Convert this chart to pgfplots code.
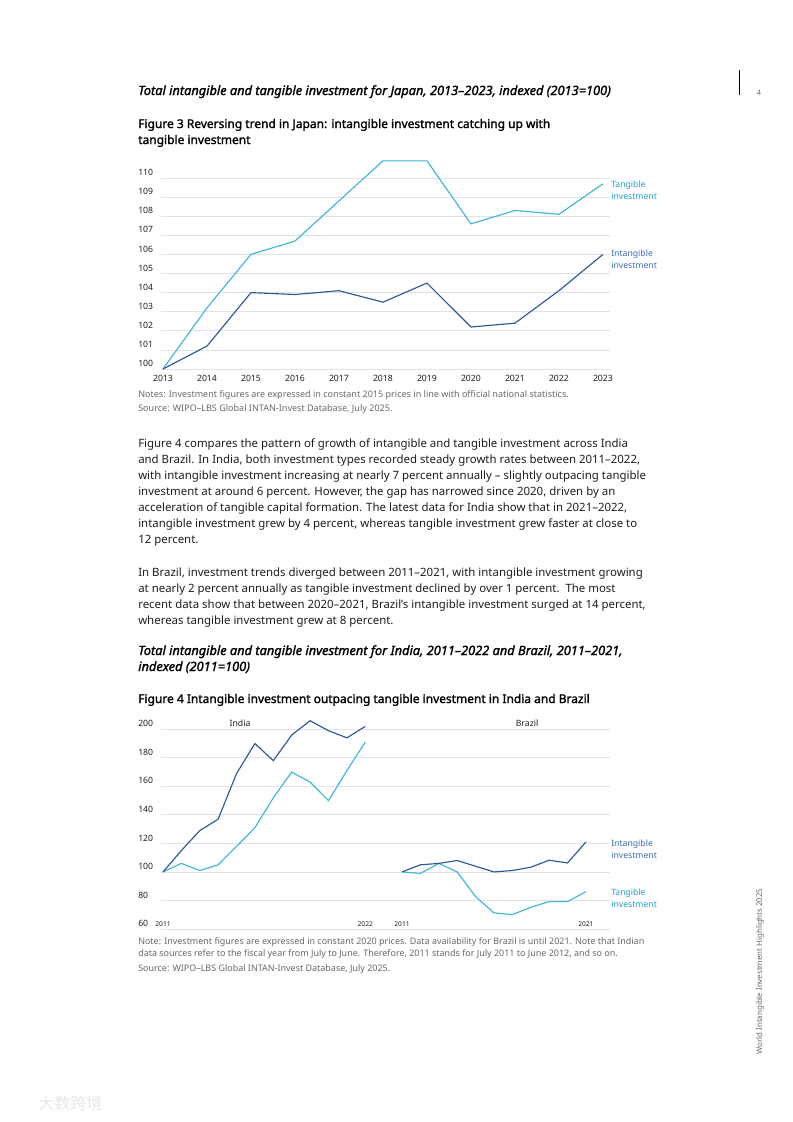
\documentclass[border=0pt]{standalone}
\usepackage{fontspec}
\setmainfont{Noto Sans}[AutoFakeBold=1.6]
\newfontfamily\bif{Noto Sans}[UprightFeatures={FakeBold=1.6}, ItalicFeatures={FakeBold=1.6}]
\newfontfamily\cjk{Noto Sans CJK SC}
\usepackage{pgfplots}
\pgfplotsset{compat=1.18}
\usepackage{pgfplotstable}

\definecolor{tangline}{RGB}{62,182,214}
\definecolor{intline}{RGB}{44,86,151}
\definecolor{tanglab}{RGB}{35,160,200}
\definecolor{intlab}{RGB}{60,108,180}
\definecolor{gridc}{RGB}{226,226,226}
\definecolor{notec}{RGB}{105,105,105}
\definecolor{bodyc}{RGB}{30,30,30}

% Japan, indexed 2013=100
\pgfplotstableread{
year tang intang
2013 100.0 100.0
2014 103.2 101.2
2015 106.0 104.0
2016 106.7 103.9
2017 108.8 104.1
2018 110.9 103.5
2019 110.9 104.5
2020 107.6 102.2
2021 108.3 102.4
2022 108.1 104.1
2023 109.7 106.0
}\japan

% India 2011-2022 at x=0..11
\pgfplotstableread{
x tang intang
0 100 100
1 106 115
2 101 129
3 105 137
4 118 169
5 131 190
6 152 178
7 170 196
8 163 206
9 150 199
10 171 194
11 191 202
}\india

% Brazil 2011-2021 at x=13..23
\pgfplotstableread{
x tang intang
13 100.0 100.0
14 99.0 105.0
15 106.0 106.0
16 100.0 108.0
17 82.7 104.0
18 71.3 100.0
19 70.1 101.0
20 75.2 103.3
21 79.2 108.2
22 79.2 106.3
23 86.2 121.0
}\brazil

\newcommand\Ln[3]{\node[anchor=base west,inner sep=0pt] at (#1,#2) {#3};}

\begin{document}
\begin{tikzpicture}
\begin{scope}[x=0.75pt,y=-0.75pt]
\path[fill=white] (0,0) rectangle (793,1122);
\coordinate (J) at (161,369);
\coordinate (B) at (161,929);

% header
\draw[line width=0.9pt] (739.5,70) -- (739.5,95);
\node[font=\fontsize{5.5}{6}\selectfont,text=notec,inner sep=0pt] at (759,93) {4};

% ---------- Japan block ----------
\begin{scope}[font=\bif\fontsize{9.6}{11}\selectfont\itshape]
\Ln{138}{95}{Total intangible and tangible investment for Japan, 2013–2023, indexed (2013=100)}
\end{scope}
\begin{scope}[font=\fontsize{8.98}{10}\selectfont\bfseries]
\Ln{138}{128}{Figure 3 Reversing trend in Japan: intangible investment catching up with}
\Ln{138}{144}{tangible investment}
\end{scope}

\begin{scope}[font=\fontsize{6.5}{7}\selectfont]
\Ln{611}{187.5}{\color{tanglab}Tangible}
\Ln{611}{199.5}{\color{tanglab}investment}
\Ln{611}{256}{\color{intlab}Intangible}
\Ln{611}{268}{\color{intlab}investment}
\end{scope}

\begin{scope}[font=\fontsize{6.78}{7}\selectfont, text=notec]
\Ln{138}{397}{Notes: Investment figures are expressed in constant 2015 prices in line with official national statistics.}
\Ln{138}{411}{Source: WIPO–LBS Global INTAN-Invest Database, July 2025.}
\end{scope}

% ---------- body text ----------
\begin{scope}[font=\fontsize{8.57}{10}\selectfont, text=bodyc]
\Ln{138}{447}{Figure 4 compares the pattern of growth of intangible and tangible investment across India}
\Ln{138}{463}{and Brazil. In India, both investment types recorded steady growth rates between 2011–2022,}
\Ln{138}{479}{with intangible investment increasing at nearly 7 percent annually – slightly outpacing tangible}
\Ln{138}{495}{investment at around 6 percent. However, the gap has narrowed since 2020, driven by an}
\Ln{138}{511}{acceleration of tangible capital formation. The latest data for India show that in 2021–2022,}
\Ln{138}{527}{intangible investment grew by 4 percent, whereas tangible investment grew faster at close to}
\Ln{138}{543}{12 percent.}
\Ln{138}{576}{In Brazil, investment trends diverged between 2011–2021, with intangible investment growing}
\Ln{138}{592}{at nearly 2 percent annually as tangible investment declined by over 1 percent.\ \ The most}
\Ln{138}{608}{recent data show that between 2020–2021, Brazil’s intangible investment surged at 14 percent,}
\Ln{138}{624}{whereas tangible investment grew at 8 percent.}
\end{scope}

% ---------- India / Brazil block ----------
\begin{scope}[font=\bif\fontsize{9.6}{11}\selectfont\itshape]
\Ln{138}{655}{Total intangible and tangible investment for India, 2011–2022 and Brazil, 2011–2021,}
\Ln{138}{671}{indexed (2011=100)}
\end{scope}
\begin{scope}[font=\fontsize{8.98}{10}\selectfont\bfseries]
\Ln{138}{703}{Figure 4 Intangible investment outpacing tangible investment in India and Brazil}
\end{scope}

\begin{scope}[font=\fontsize{6.5}{7}\selectfont]
\Ln{611}{846}{\color{intlab}Intangible}
\Ln{611}{858}{\color{intlab}investment}
\Ln{611}{895.5}{\color{tanglab}Tangible}
\Ln{611}{907.5}{\color{tanglab}investment}
\end{scope}

\begin{scope}[font=\fontsize{6.72}{7}\selectfont, text=notec]
\Ln{138}{944}{Note: Investment figures are expressed in constant 2020 prices. Data availability for Brazil is until 2021. Note that Indian}
\Ln{138}{956}{data sources refer to the fiscal year from July to June. Therefore, 2011 stands for July 2011 to June 2012, and so on.}
\Ln{138}{971}{Source: WIPO–LBS Global INTAN-Invest Database, July 2025.}
\end{scope}

% side running title
\node[rotate=90, font=\fontsize{5.9}{6}\selectfont, text=notec, inner sep=0pt] at (760,971.5) {World Intangible Investment Highlights 2025};

% watermark
\node[font=\cjk\fontsize{12}{12}\selectfont, text=black!9, anchor=west, inner sep=0pt] at (38,1103) {大数跨境};
\end{scope}

\begin{axis}[
  at={(J)}, anchor=south west,
  scale only axis, width=336.75pt, height=143.25pt,
  xmin=2012.955, xmax=2023.16, ymin=100, ymax=110,
  clip=false,
  axis line style={draw=none}, tick style={draw=none},
  ymajorgrids, grid style={gridc, line width=0.6pt},
  xtick={2013,...,2023}, ytick={100,...,110},
  x tick label style={/pgf/number format/1000 sep={}},
  /pgf/number format/assume math mode=true,
  tick label style={font=\fontsize{6.5}{7}\selectfont, text=bodyc},
  yticklabel style={anchor=base west, xshift=-17.25pt, yshift=1.8pt, inner sep=0pt},
  xticklabel style={anchor=base, yshift=-9.2pt, inner sep=0pt},
]
\addplot[tangline, line width=0.85pt] table[x=year,y=tang] {\japan};
\addplot[intline, line width=0.85pt] table[x=year,y=intang] {\japan};
\end{axis}

\begin{axis}[
  at={(B)}, anchor=south west,
  scale only axis, width=336.75pt, height=149.8pt,
  xmin=-0.109, xmax=24.31, ymin=60, ymax=200,
  clip=false,
  axis line style={draw=none}, tick style={draw=none},
  ymajorgrids, grid style={gridc, line width=0.6pt},
  ytick={60,80,...,200},
  xtick={0,11,13,23}, xticklabels={2011,2022,2011,2021},
  /pgf/number format/assume math mode=true,
  yticklabel style={font=\fontsize{6.5}{7}\selectfont, text=bodyc, anchor=base west, xshift=-17.25pt, yshift=1.8pt, inner sep=0pt},
  xticklabel style={font=\fontsize{5}{6}\selectfont, text=bodyc, anchor=base, yshift=2pt, inner sep=0pt},
]
\addplot[tangline, line width=0.85pt] table[x=x,y=tang] {\india};
\addplot[intline, line width=0.85pt] table[x=x,y=intang] {\india};
\addplot[tangline, line width=0.85pt] table[x=x,y=tang] {\brazil};
\addplot[intline, line width=0.85pt] table[x=x,y=intang] {\brazil};
\node[font=\fontsize{6.5}{7}\selectfont, text=bodyc] at (axis cs:4.19,204.5) {India};
\node[font=\fontsize{6.5}{7}\selectfont, text=bodyc] at (axis cs:19.8,204.5) {Brazil};
\end{axis}
\end{tikzpicture}
\end{document}
